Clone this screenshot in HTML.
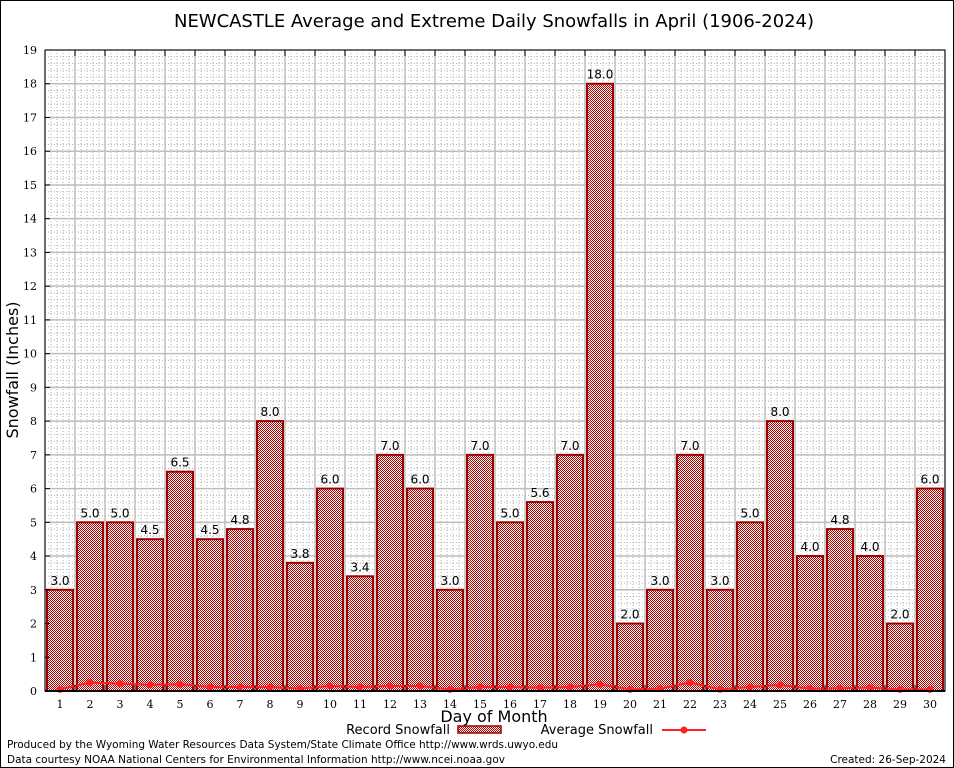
<!DOCTYPE html>
<html><head><meta charset="utf-8"><style>
body{margin:0;background:#fff;}
svg{display:block;font-family:"DejaVu Sans","Liberation Sans",sans-serif;}
</style></head><body>
<svg id="chart" width="954" height="768" viewBox="0 0 954 768">
<defs>
<pattern id="chk" width="2" height="2" patternUnits="userSpaceOnUse">
<rect width="2" height="2" fill="#ffffff"/>
<rect width="1" height="1" fill="#b00000"/><rect x="1" y="1" width="1" height="1" fill="#b00000"/>
</pattern>
</defs>
<rect x="0.5" y="0.5" width="953" height="767" fill="#fff" stroke="#000"/>
<text x="494" y="27" font-size="18" text-anchor="middle" textLength="640">NEWCASTLE Average and Extreme Daily Snowfalls in April (1906-2024)</text>
<g id="grid"></g>
<g id="bars"></g>
<g id="avg"></g>
<g id="axes"></g>
<text transform="translate(18,370) rotate(-90)" font-size="16" text-anchor="middle">Snowfall (Inches)</text>
<text x="494" y="722" font-size="16" text-anchor="middle">Day of Month</text>
<g>
<text x="450" y="734" font-size="13" text-anchor="end">Record Snowfall</text>
<rect x="458" y="726" width="43" height="7" fill="url(#chk)" stroke="#a00000" stroke-width="1.5"/>
</g>
<g>
<text x="653" y="734" font-size="13" text-anchor="end">Average Snowfall</text>
<line x1="662" y1="730" x2="706" y2="730" stroke="#ff2020" stroke-width="2"/>
<circle cx="684" cy="730" r="3.5" fill="#ff2020"/>
</g>
<text x="7" y="748" font-size="10.5" textLength="551">Produced by the Wyoming Water Resources Data System/State Climate Office http://www.wrds.uwyo.edu</text>
<text x="7" y="763" font-size="10.5" textLength="498">Data courtesy NOAA National Centers for Environmental Information http://www.ncei.noaa.gov</text>
<text x="946" y="763" font-size="10.5" text-anchor="end">Created:  26-Sep-2024</text>
</svg>
<script>
const days=[1,2,3,4,5,6,7,8,9,10,11,12,13,14,15,16,17,18,19,20,21,22,23,24,25,26,27,28,29,30];
const recordSnow=[3.0,5.0,5.0,4.5,6.5,4.5,4.8,8.0,3.8,6.0,3.4,7.0,6.0,3.0,7.0,5.0,5.6,7.0,18.0,2.0,3.0,7.0,3.0,5.0,8.0,4.0,4.8,4.0,2.0,6.0];
const avgSnow=[0.05,0.25,0.22,0.18,0.2,0.12,0.12,0.12,0.07,0.15,0.12,0.15,0.15,0.05,0.12,0.12,0.1,0.12,0.2,0.05,0.07,0.25,0.05,0.12,0.18,0.07,0.08,0.1,0.05,0.05];
const yTicks=[0,1,2,3,4,5,6,7,8,9,10,11,12,13,14,15,16,17,18,19];
const NS='http://www.w3.org/2000/svg';
const L=45,R=945,T=50,B=691,ymax=19;
const x=d=>L+(d-0.5)*(R-L)/30;
const y=v=>B-v*(B-T)/ymax;
function mk(tag,attrs,parent){const e=document.createElementNS(NS,tag);for(const k in attrs)e.setAttribute(k,attrs[k]);parent.appendChild(e);return e;}
const grid=document.getElementById('grid'),bars=document.getElementById('bars'),avg=document.getElementById('avg'),axes=document.getElementById('axes');
for(let d=0;d<30;d++)for(let k=1;k<5;k++){const xx=x(d+0.5+k/5);const l=mk('line',{x1:xx,x2:xx,y1:T,y2:B,stroke:'#b0b0b0','stroke-dasharray':'1,2'},grid);}
for(let v=0;v<ymax;v++)for(let k=1;k<5;k++){const yy=y(v+k/5);const l=mk('line',{x1:L,x2:R,y1:yy,y2:yy,stroke:'#b0b0b0','stroke-dasharray':'1,2'},grid);}
for(let d=0;d<=30;d++){const xx=x(d+0.5);const l=mk('line',{x1:xx,x2:xx,y1:T,y2:B,stroke:'#bdbdbd','stroke-width':1.5},grid);}
yTicks.forEach(v=>{const l=mk('line',{x1:L,x2:R,y1:y(v),y2:y(v),stroke:'#bdbdbd','stroke-width':1.5},grid);});
days.forEach((d,i)=>{const v=recordSnow[i];const r=mk('rect',{x:x(d)-13,y:y(v),width:26,height:B-y(v),fill:'url(#chk)',stroke:'#a00000','stroke-width':2},bars);
const t=mk('text',{x:x(d),y:y(v)-5,'font-size':12,'text-anchor':'middle'},bars);t.textContent=v.toFixed(1);});
let p='';days.forEach((d,i)=>{p+=(i?'L':'M')+x(d)+','+y(avgSnow[i]);});
const pl=mk('path',{d:p,fill:'none',stroke:'#ff2020','stroke-width':2},avg);
days.forEach((d,i)=>{const c=mk('circle',{cx:x(d),cy:y(avgSnow[i]),r:3.5,fill:'#ff2020'},avg);});
const fr=mk('rect',{x:L,y:T,width:R-L,height:B-T,fill:'none',stroke:'#000','stroke-width':1},axes);
const bl=mk('line',{x1:L,x2:R,y1:B,y2:B,stroke:'#000','stroke-width':2},axes);
yTicks.forEach(v=>{const t=mk('text',{x:L-8,y:y(v)+4,'font-size':11,'text-anchor':'end','font-family':'DejaVu Serif,Liberation Serif,serif'},axes);t.textContent=v;
const tk=mk('line',{x1:L,x2:L+5,y1:y(v),y2:y(v),stroke:'#000'},axes);});
days.forEach(d=>{const t=mk('text',{x:x(d),y:B+17,'font-size':11,'text-anchor':'middle','font-family':'DejaVu Serif,Liberation Serif,serif'},axes);t.textContent=d;});
for(let d=0;d<=30;d++){const xx=x(d+0.5);const a=mk('line',{x1:xx,x2:xx,y1:B,y2:B-6,stroke:'#000'},axes);const b=mk('line',{x1:xx,x2:xx,y1:T,y2:T+6,stroke:'#000'},axes);}
</script>
</body></html>
